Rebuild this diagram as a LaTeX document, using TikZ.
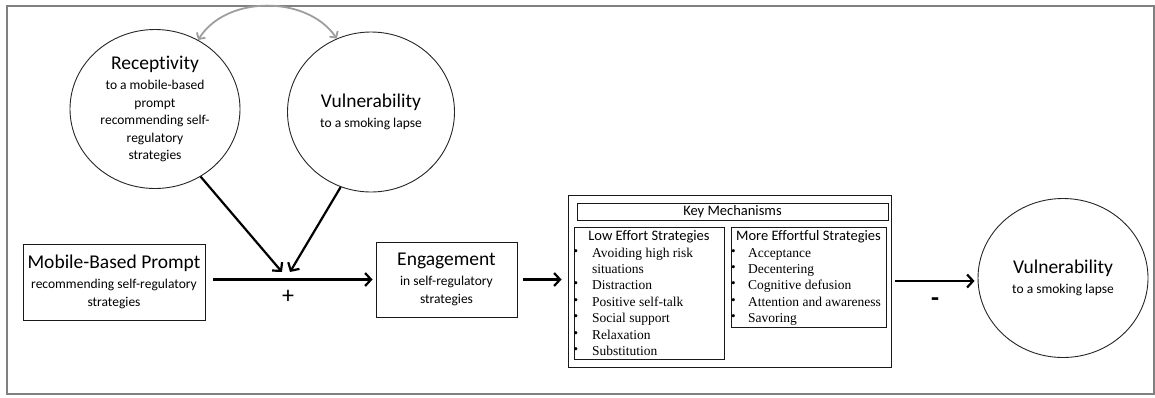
\documentclass[tikz,border=0pt]{standalone}
\usepackage{fontspec}
\setmainfont{Carlito}[Ligatures=NoCommon]
\newfontfamily\tmsfont{Liberation Serif}
\usetikzlibrary{shapes.geometric,arrows.meta}

% heading line inside a concept node
\newcommand\headline[1]{{\fontsize{19.5}{19.5}\selectfont #1}\\[2.5pt]}

\tikzset{
  oval/.style={ellipse, draw=black!85, line width=0.9pt, minimum width=170pt,
    minimum height=159pt, inner sep=0pt, align=center, text=black,
    font=\fontsize{13.5}{17.5}\selectfont},
  box/.style={rectangle, draw=black!90, line width=0.9pt, inner sep=0pt,
    align=center, text=black, font=\fontsize{13.5}{17.5}\selectfont},
  arr/.style={line width=2.2pt, draw=black,
    -{Straight Barb[length=6pt,width=13pt,line width=2.2pt]}},
  corr/.style={line width=1.8pt, draw=black!38,
    {Straight Barb[length=4.5pt,width=10pt,line width=1.8pt]}-{Straight Barb[length=4.5pt,width=10pt,line width=1.8pt]}},
  colhead/.style={anchor=base, inner sep=0pt, text=black,
    font=\fontsize{14.5}{14.5}\selectfont},
  item/.style={anchor=base west, inner sep=0pt, text=black,
    font=\tmsfont\fontsize{13.5}{13.5}\selectfont},
  dot/.style={anchor=base, inner sep=0pt, text=black,
    font=\tmsfont\fontsize{13}{13}\selectfont},
  sign/.style={inner sep=0pt, text=black, font=\fontsize{24}{24}\selectfont},
}

\begin{document}
\begin{tikzpicture}[x=1pt,y=-1pt]
\useasboundingbox (0,0) rectangle (1155,397);

% outer frame
\draw[draw=black!50, line width=1.6pt] (7,6) rectangle (1154,394);

% moderators
\node[oval] (rec) at (155,109) {\headline{Receptivity}to a mobile-based\\prompt\\recommending self-\\regulatory\\strategies};
\node[oval, minimum width=167pt, minimum height=160pt] (vul) at (371,112)
  {\headline{Vulnerability}to a smoking lapse};

% main path
\node[box, minimum width=182pt, minimum height=76pt] (mbp) at (114,282)
  {\headline{Mobile-Based Prompt}recommending self-regulatory\\strategies};
\node[box, minimum width=141pt, minimum height=75pt] (eng) at (446.5,279.5)
  {\headline{Engagement}in self-regulatory\\strategies};

% key mechanisms panel
\node[box, minimum width=323pt, minimum height=172pt] (key) at (729.5,281) {};
\node[box, minimum width=311pt, minimum height=17pt,
  font=\fontsize{14.5}{14.5}\selectfont] (kmt) at (732.5,211.5) {Key Mechanisms};
\node[box, minimum width=150pt, minimum height=132pt] (low) at (649,293) {};
\node[box, minimum width=155pt, minimum height=100pt] (more) at (808.5,277) {};

\node[colhead] (lowh) at (649,240) {Low Effort Strategies};
\node[colhead] (moreh) at (808.5,240) {More Effortful Strategies};

\foreach \y/\t [count=\i] in {257/Avoiding high risk, 273.4/situations,
    289.8/Distraction, 306.2/Positive self-talk, 322.6/Social support,
    339/Relaxation, 355.4/Substitution}
  \node[item] (lo\i) at (592,\y) {\t};
\foreach \y [count=\i] in {257,289.8,306.2,322.6,339,355.4}
  \node[dot] (lb\i) at (576,\y-2) {\textbullet};

\foreach \y/\t [count=\i] in {257/Acceptance, 273.4/Decentering,
    289.8/Cognitive defusion, 306.2/Attention and awareness, 322.6/Savoring}
{
  \node[item] (mo\i) at (748,\y) {\t};
  \node[dot] (mb\i) at (733.5,\y-2) {\textbullet};
}

% outcome
\node[oval] (out) at (1063,278) {\headline{Vulnerability}to a smoking lapse};

% connectors
\coordinate (jl) at (282,272);
\coordinate (jr) at (290,272);
\draw[arr] (rec.-56) -- (jl);
\draw[arr] (vul.-112) -- (jr);
\draw[arr, shorten <=8pt, shorten >=3pt] (mbp.east |- eng.west) -- (eng.west);
\draw[arr, shorten <=6pt, shorten >=6pt] (eng.east) -- (eng.east -| key.west);
\draw[arr, shorten <=4pt, shorten >=3pt] (key.east) -- (key.east -| out.west);
\draw[corr] (rec.58) .. controls (226,-5) and (307,-5) .. (vul.115);

\node[sign] (plus) at (288,297) {+};
\node[sign, font=\bfseries\fontsize{26}{26}\selectfont] (minus) at (935,302) {-};
\end{tikzpicture}
\end{document}
